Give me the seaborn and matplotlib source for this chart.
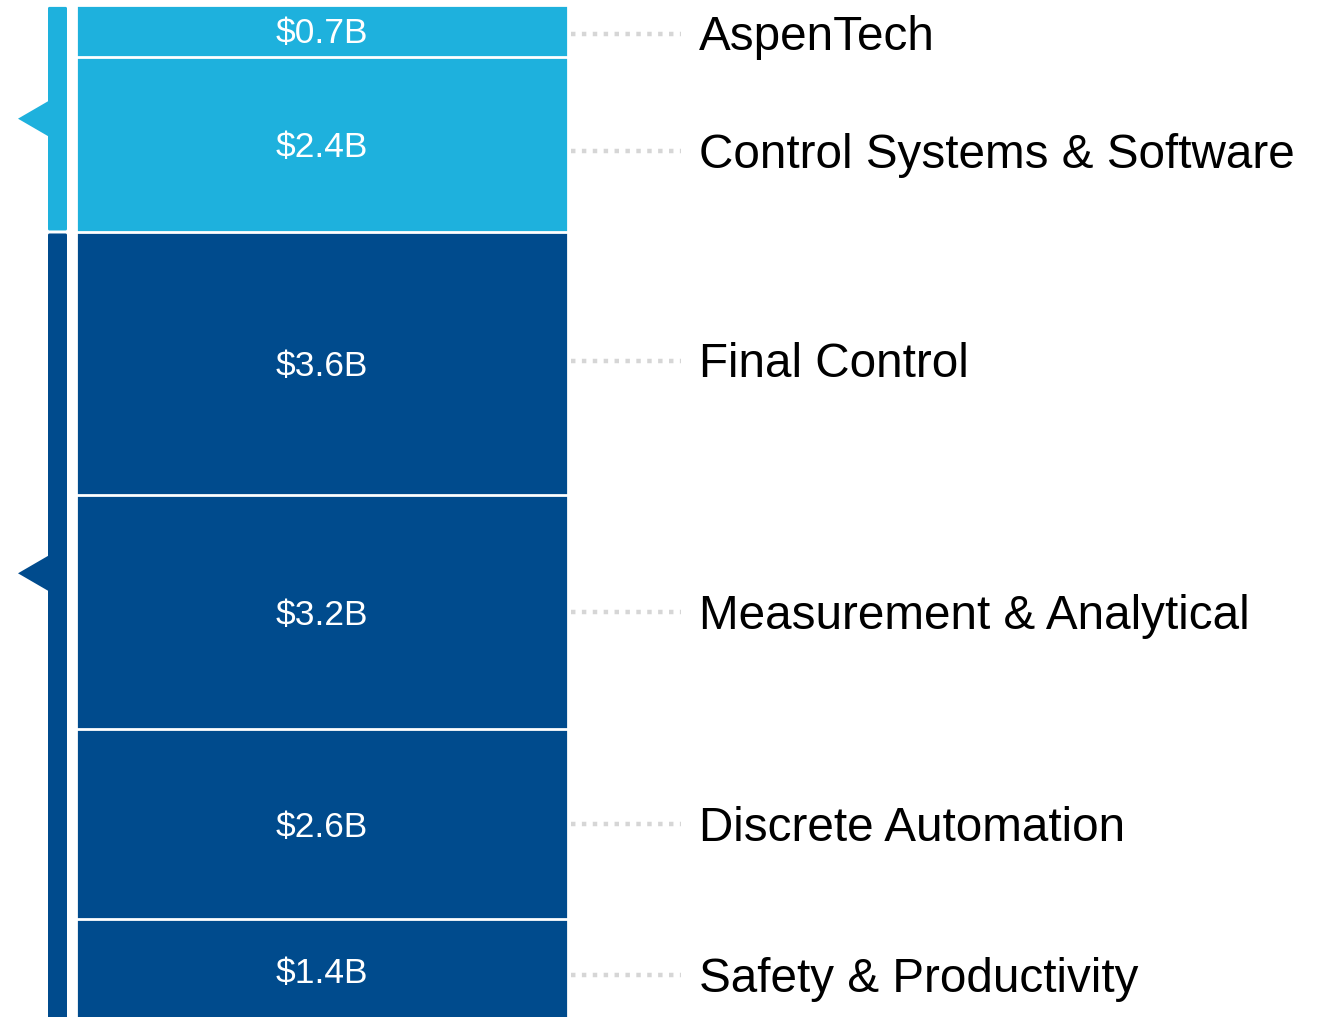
import numpy as np
import pandas as pd
import matplotlib
matplotlib.use("Agg")
import matplotlib.pyplot as plt
from matplotlib.patches import Polygon, FancyBboxPatch
import seaborn as sns

# ----------------------------------------------------------------------
# Data (top of the stack first)
# ----------------------------------------------------------------------
SEGMENTS = ["AspenTech", "Control Systems & Software", "Final Control",
            "Measurement & Analytical", "Discrete Automation", "Safety & Productivity"]
VALUES = [0.7, 2.4, 3.6, 3.2, 2.6, 1.4]          # revenue, $B
VALUE_LABELS = ["$0.7B", "$2.4B", "$3.6B", "$3.2B", "$2.6B", "$1.4B"]
GROUPS = ["software", "software", "hardware", "hardware", "hardware", "hardware"]

# ----------------------------------------------------------------------
# Style
# ----------------------------------------------------------------------
LIGHT = "#1EB1DD"
DARK = "#004B8D"
GROUP_COLORS = {"software": LIGHT, "hardware": DARK}
DOT_GREY = "#D6D6D6"

sns.set_theme(style="white")
plt.rcParams["font.family"] = ["Liberation Sans", "DejaVu Sans"]

W, H = 1318, 1017
PX = 73.09                 # pixels per $1B
Y0 = 5.4                   # pixel row of the stack top
ylim = ((H - Y0) / PX, -Y0 / PX)

vals = np.array(VALUES)
ends = np.cumsum(vals)
starts = ends - vals
centers = starts + vals / 2

df = pd.DataFrame({"stack": "total", "segment": SEGMENTS, "end": ends,
                   "group": GROUPS})
# layered drawing: longest cumulative bar first, shorter ones on top
order = SEGMENTS[::-1]
palette = {s: GROUP_COLORS[g] for s, g in zip(SEGMENTS, GROUPS)}

fig = plt.figure(figsize=(W / 100, H / 100), dpi=100)

ax = fig.add_axes([75.5 / W, 0, 492 / W, 1])
sns.barplot(data=df, x="stack", y="end", hue="segment", hue_order=order,
            palette=palette, dodge=False, width=1.0, saturation=1,
            edgecolor="white", linewidth=2, legend=False, ax=ax)
ax.set_xlim(-0.5, 0.5)
ax.set_ylim(*ylim)
ax.axis("off")

for c, lab in zip(centers, VALUE_LABELS):
    ax.text(0, c + 3 / PX, lab, color="white", fontsize=25.5,
            ha="center", va="center")

# overlay in pixel x-units, sharing the value scale in y
ov = fig.add_axes([0, 0, 1, 1], facecolor="none")
ov.set_xlim(0, W)
ov.set_ylim(*ylim)
ov.axis("off")

# group brackets on the left
for g, col in GROUP_COLORS.items():
    idx = [i for i, gg in enumerate(GROUPS) if gg == g]
    g0, g1 = starts[idx[0]], ends[idx[-1]]
    gap = 1.5 / PX
    ov.add_patch(FancyBboxPatch((48, g0 + gap), 19, g1 - g0 - 2 * gap,
                                boxstyle="round,pad=0,rounding_size=1.5",
                                mutation_aspect=1 / PX,
                                facecolor=col, edgecolor="none"))
tri_y = {"software": (starts[0] + ends[1]) / 2, "hardware": 7.77}
for g, col in GROUP_COLORS.items():
    ty = tri_y[g]
    hh = 18 / PX
    ov.add_patch(Polygon([(18, ty), (49, ty - hh), (49, ty + hh)],
                         closed=True, facecolor=col, edgecolor="none"))

# leader lines and segment names
nudge = [3, 7, -3, 0, 0, 5]   # pixel nudges to keep the names apart
for c, name, n in zip(centers, SEGMENTS, nudge):
    yy = c + n / PX
    ov.plot([571, 681], [yy, yy], color=DOT_GREY, linewidth=3.2,
            linestyle=(0, (1.0, 1.45)), solid_capstyle="butt")
    ov.text(699, yy + 4 / PX, name, fontsize=34.3, color="black",
            ha="left", va="center")

fig.savefig("out.png", dpi=100)
